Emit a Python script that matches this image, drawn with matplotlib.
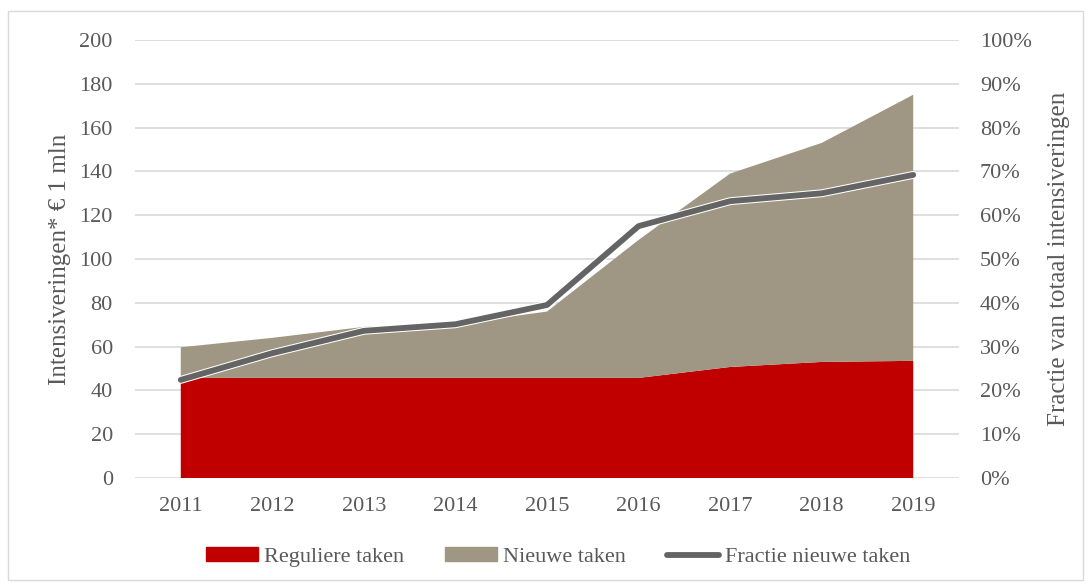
import matplotlib
matplotlib.use("Agg")
import matplotlib.pyplot as plt
import matplotlib.patheffects as pe
from matplotlib.patches import Rectangle, Patch
from matplotlib.lines import Line2D
from matplotlib.ticker import FuncFormatter

years = [2011, 2012, 2013, 2014, 2015, 2016, 2017, 2018, 2019]
reguliere = [45.7, 45.7, 45.7, 45.7, 45.7, 45.7, 50.7, 53.0, 53.5]
nieuwe = [14.0, 18.3, 23.3, 24.6, 30.3, 63.0, 88.3, 100.0, 121.5]
fractie = [22.4, 28.5, 33.6, 35.1, 39.5, 57.5, 63.2, 65.0, 69.2]

RED = "#C00000"
TAUPE = "#A09684"
LINE = "#646464"
TXT = "#595959"
GRID = "#D9D9D9"
FS = 16

plt.rcParams['font.family'] = ['Liberation Serif', 'DejaVu Serif']

fig = plt.figure(figsize=(10.91, 5.88), dpi=100)
fig.patches.append(Rectangle((8/1091, 8/588), 1 - 16/1091, 1 - 19/588,
                             transform=fig.transFigure, fill=False,
                             edgecolor="#D9D9D9", linewidth=1))
ax = fig.add_axes([135/1091, 1 - 478/588, (959 - 135)/1091, (478 - 40)/588])
x = list(range(len(years)))
ax.stackplot(x, reguliere, nieuwe, colors=[RED, TAUPE], linewidth=0)
ax.set_xlim(-0.5, len(years) - 0.5)
ax.set_ylim(0, 200)
ax.set_yticks(range(0, 201, 20))
ax.set_xticks(x)
ax.set_xticklabels([str(y) for y in years])
ax.grid(axis='y', color=GRID, linewidth=1.2)
ax.set_axisbelow(True)
for s in ax.spines.values():
    s.set_visible(False)
ax.tick_params(length=0, labelsize=FS, colors=TXT)
ax.tick_params(axis='y', pad=16)
ax.tick_params(axis='x', pad=14)
ax.set_ylabel("Intensiveringen* € 1 mln", fontsize=18, color=TXT, labelpad=6)

ax2 = ax.twinx()
ax2.plot(x, fractie, color=LINE, linewidth=4.2, solid_capstyle='round',
         path_effects=[pe.Stroke(linewidth=5.7, foreground='white'), pe.Normal()])
ax2.set_ylim(0, 100)
ax2.set_yticks(range(0, 101, 10))
ax2.yaxis.set_major_formatter(FuncFormatter(lambda v, p: f"{int(v)}%"))
for s in ax2.spines.values():
    s.set_visible(False)
ax2.tick_params(length=0, labelsize=FS, colors=TXT, pad=15)
ax2.set_ylabel("Fractie van totaal intensiveringen", fontsize=18, color=TXT, labelpad=12)

handles = [Patch(color=RED, label="Reguliere taken"),
           Patch(color=TAUPE, label="Nieuwe taken"),
           Line2D([0], [0], color=LINE, linewidth=4.2, solid_capstyle='round', label="Fractie nieuwe taken")]
leg = fig.legend(handles=handles, loc='center', bbox_to_anchor=(558/1091, 1 - 557/588), ncol=3,
                 frameon=False, fontsize=FS, handlelength=2.35, handleheight=0.55,
                 handletextpad=0.25, columnspacing=1.85)
for t in leg.get_texts():
    t.set_color(TXT)

fig.savefig("out.png", dpi=100)
